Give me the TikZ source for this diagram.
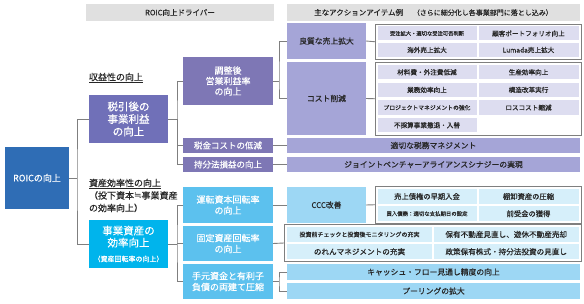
\documentclass[tikz,border=0pt]{standalone}
\usepackage{fontspec}
\setmainfont{Noto Sans CJK JP}[FakeBold=0.35]
\newfontfamily\dejavu{DejaVu Sans}
\definecolor{roicblue}{HTML}{2F6DB5}
\definecolor{zeipurple}{HTML}{7070B8}
\definecolor{midpurple}{HTML}{7E77B5}
\definecolor{lightpurple}{HTML}{A5A5D7}
\definecolor{cellpurple}{HTML}{DDDDF0}
\definecolor{jigcyan}{HTML}{00B4EC}
\definecolor{midblue}{HTML}{5CC1EE}
\definecolor{lightblue}{HTML}{9DD7F4}
\definecolor{cellblue}{HTML}{D6EFFA}
\definecolor{hdrgray}{HTML}{E0E0E0}
\definecolor{linegray}{HTML}{7F7F7F}
\definecolor{txtdark}{HTML}{262626}
\newcommand\mybox[7]{\node[#6, minimum width={(#4-#2)*1pt}, minimum height={(#5-#3)*1pt}] (#1) at ({(#2+#4)/2},{(#3+#5)/2}) {#7};}
\begin{document}
\begin{tikzpicture}[x=1pt,y=-1pt,
  every node/.style={inner sep=0pt,outer sep=0pt,align=center},
  hdr/.style={fill=hdrgray,text=txtdark,font=\fontsize{7.5}{9}\selectfont},
  dk/.style={text=white},
  lt/.style={text=txtdark,font=\fontsize{7.8}{9.5}\selectfont},
  grp/.style={draw=linegray,line width=0.8pt,fill=white},
  cellp/.style={fill=cellpurple,text=txtdark,font=\fontsize{6.6}{8}\selectfont},
  cellb/.style={fill=cellblue,text=txtdark,font=\fontsize{7.3}{8.5}\selectfont},
  lbl/.style={text=txtdark,font=\fontsize{9}{12.5}\selectfont},
  conn/.style={draw=linegray,line width=0.9pt}]
\useasboundingbox (0,0) rectangle (584,304);
% headers
\mybox{hdrA}{86}{4}{274}{21}{hdr}{ROIC向上ドライバー}
\mybox{hdrB}{287}{4}{580}{21}{hdr}{主なアクションアイテム例\hspace{1.3em}{\fontsize{7}{8}\selectfont（さらに細分化し各事業部門に落とし込み）}}
% root
\mybox{roic}{5}{147}{69}{209}{dk,fill=roicblue,font=\fontsize{9}{11}\selectfont}{ROICの向上}
% profitability
\node[lbl,anchor=west] (lab1) at (89,78) {\underline{収益性の向上}};
\mybox{zei}{89}{95}{168}{143}{dk,fill=zeipurple,font=\fontsize{10.5}{12.5}\selectfont}{税引後の\\事業利益\\の向上}
\mybox{chosei}{183}{57}{273}{105}{dk,fill=midpurple,font=\fontsize{9}{10.5}\selectfont}{調整後\\営業利益率\\の向上}
\mybox{zeikin}{183}{138}{273}{153}{dk,fill=midpurple,font=\fontsize{8.5}{10}\selectfont}{税金コストの低減}
\mybox{mochi}{183}{157}{273}{172}{dk,fill=midpurple,font=\fontsize{8.5}{10}\selectfont}{持分法損益の向上}
\mybox{ryo}{287}{23}{366}{59}{lt,fill=lightpurple}{良質な売上拡大}
\mybox{cost}{287}{62}{366}{135}{lt,fill=lightpurple}{コスト削減}
\mybox{g1}{375}{24}{581}{59.5}{grp}{}
\mybox{c11}{377.5}{26.5}{476.5}{40.5}{cellp,font=\fontsize{5.3}{6}\selectfont}{受注拡大・適切な受注可否判断}
\mybox{c12}{478.5}{26.5}{578.5}{40.5}{cellp}{顧客ポートフォリオ向上}
\mybox{c13}{377.5}{43}{476.5}{57}{cellp}{海外売上拡大}
\mybox{c14}{478.5}{43}{578.5}{57}{cellp}{Lumada売上拡大}
\mybox{g2}{375}{62}{581}{135.5}{grp}{}
\mybox{c21}{377.5}{65}{476.5}{79.5}{cellp}{材料費・外注費低減}
\mybox{c22}{478.5}{65}{578.5}{79.5}{cellp}{生産効率向上}
\mybox{c23}{377.5}{82.7}{476.5}{97.2}{cellp}{業務効率向上}
\mybox{c24}{478.5}{82.7}{578.5}{97.2}{cellp}{構造改革実行}
\mybox{c25}{377.5}{100.4}{476.5}{114.9}{cellp,font=\fontsize{5.8}{7}\selectfont}{プロジェクトマネジメントの強化}
\mybox{c26}{478.5}{100.4}{578.5}{114.9}{cellp}{ロスコスト縮減}
\mybox{c27}{377.5}{118}{476.5}{132.5}{cellp}{不採算事業撤退・入替}
\mybox{tax}{287}{138}{580}{153}{lt,fill=lightpurple}{適切な税務マネジメント}
\mybox{jv}{287}{157}{580}{172}{lt,fill=lightpurple}{ジョイントベンチャーアライアンスシナジーの実現}
% asset efficiency
\node[lbl,anchor=west,align=left] (lab2) at (89,195.5) {\underline{資産効率性の向上}\\（投下資本{\dejavu ≒}事業資産\\の効率向上）};
\mybox{jig}{89}{220}{168}{268}{dk,fill=jigcyan,font=\fontsize{10.5}{12}\selectfont}{事業資産の\\効率向上\\[3pt]{\fontsize{7}{12}\selectfont（資産回転率の向上）}}
\mybox{unten}{183}{187}{273}{223}{dk,fill=midblue,font=\fontsize{9}{11}\selectfont}{運転資本回転率\\の向上}
\mybox{kotei}{183}{226}{273}{261}{dk,fill=midblue,font=\fontsize{9}{11}\selectfont}{固定資産回転率\\の向上}
\mybox{temoto}{183}{264}{273}{299}{dk,fill=midblue,font=\fontsize{9}{11}\selectfont}{手元資金と有利子\\負債の両建て圧縮}
\mybox{ccc}{287}{187}{366}{223}{lt,fill=lightblue}{CCC改善}
\mybox{g3}{375}{186}{581}{223.5}{grp}{}
\mybox{c31}{377.5}{189}{476.5}{204}{cellb}{売上債権の早期入金}
\mybox{c32}{478.5}{189}{578.5}{204}{cellb}{棚卸資産の圧縮}
\mybox{c33}{377.5}{206.5}{476.5}{221}{cellb,font=\fontsize{5.4}{6.5}\selectfont}{買入債務：適切な支払期日の設定}
\mybox{c34}{478.5}{206.5}{578.5}{221}{cellb}{前受金の獲得}
\mybox{g4}{284}{224.5}{581}{261.5}{grp}{}
\mybox{c41}{287}{227}{432}{242}{cellb,font=\fontsize{6}{7}\selectfont}{投資前チェックと投資後モニタリングの充実}
\mybox{c42}{434}{227}{578.5}{242}{cellb,font=\fontsize{7.6}{9}\selectfont}{保有不動産見直し、遊休不動産売却}
\mybox{c43}{287}{244.5}{432}{259}{cellb,font=\fontsize{7.6}{9}\selectfont}{のれんマネジメントの充実}
\mybox{c44}{434}{244.5}{578.5}{259}{cellb,font=\fontsize{7.6}{9}\selectfont}{政策保有株式・持分法投資の見直し}
\mybox{cash}{287}{264}{580}{280}{lt,fill=lightblue}{キャッシュ・フロー見通し精度の向上}
\mybox{pool}{287}{283}{580}{299}{lt,fill=lightblue}{プーリングの拡大}
% junctions
\coordinate (j1) at (77,178);
\coordinate (j2) at (177,119);
\coordinate (j3) at (279,81);
\coordinate (j4) at (177,244);
\coordinate (j5) at (279,281.5);
% connectors
\draw[conn] (roic.east) -- (j1);
\draw[conn] (zei.west) -| (j1) |- (jig.west);
\draw[conn] (zei.east) -- (j2);
\draw[conn] (chosei.west) -| (j2) |- (mochi.west);
\draw[conn] (j2) |- (zeikin.west);
\draw[conn] (chosei.east) -- (j3);
\draw[conn] (ryo.west) -| (j3) |- (cost.west);
\draw[conn] (ryo.east) -- (g1.west);
\draw[conn] (cost.east) -- (g2.west);
\draw[conn] (zeikin.east) -- (tax.west);
\draw[conn] (mochi.east) -- (jv.west);
\draw[conn] (jig.east) -- (j4);
\draw[conn] (unten.west) -| (j4) |- (temoto.west);
\draw[conn] (j4) |- (kotei.west);
\draw[conn] (unten.east) -- (ccc.west);
\draw[conn] (ccc.east) -- (g3.west);
\draw[conn] (kotei.east) -- (g4.west);
\draw[conn] (temoto.east) -- (j5);
\draw[conn] (cash.west) -| (j5) |- (pool.west);
\end{tikzpicture}
\end{document}
